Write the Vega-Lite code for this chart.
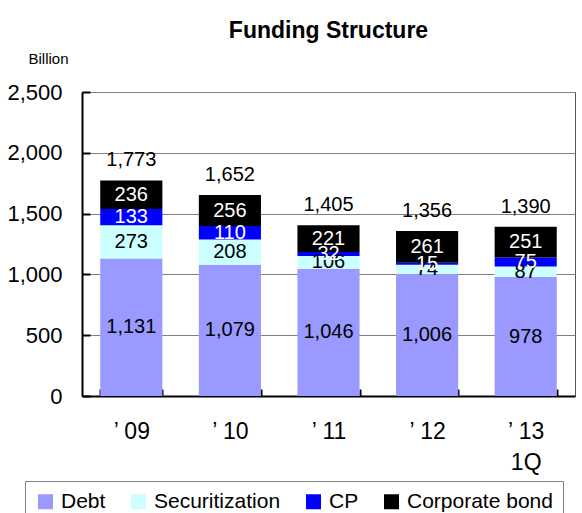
{
  "$schema": "https://vega.github.io/schema/vega-lite/v6.json",
  "width": 493,
  "height": 304,
  "autosize": "none",
  "padding": {"left": 82, "top": 92, "right": 7, "bottom": 117},
  "background": "white",
  "config": {
    "view": {"stroke": "#555555", "strokeWidth": 1},
    "font": "Liberation Sans"
  },
  "title": {
    "text": "Funding Structure",
    "fontSize": 23,
    "fontWeight": "bold",
    "font": "Liberation Sans",
    "color": "black",
    "baseline": "alphabetic",
    "offset": -10
  },
  "datasets": {
    "seg": [
      {"year": "’ 09", "series": "Debt", "k": 1, "value": 1131},
      {"year": "’ 09", "series": "Securitization", "k": 2, "value": 273},
      {"year": "’ 09", "series": "CP", "k": 3, "value": 133},
      {"year": "’ 09", "series": "Corporate bond", "k": 4, "value": 236},
      {"year": "’ 10", "series": "Debt", "k": 1, "value": 1079},
      {"year": "’ 10", "series": "Securitization", "k": 2, "value": 208},
      {"year": "’ 10", "series": "CP", "k": 3, "value": 110},
      {"year": "’ 10", "series": "Corporate bond", "k": 4, "value": 256},
      {"year": "’ 11", "series": "Debt", "k": 1, "value": 1046},
      {"year": "’ 11", "series": "Securitization", "k": 2, "value": 106},
      {"year": "’ 11", "series": "CP", "k": 3, "value": 32},
      {"year": "’ 11", "series": "Corporate bond", "k": 4, "value": 221},
      {"year": "’ 12", "series": "Debt", "k": 1, "value": 1006},
      {"year": "’ 12", "series": "Securitization", "k": 2, "value": 74},
      {"year": "’ 12", "series": "CP", "k": 3, "value": 15},
      {"year": "’ 12", "series": "Corporate bond", "k": 4, "value": 261},
      {"year": "’ 13|1Q", "series": "Debt", "k": 1, "value": 978},
      {"year": "’ 13|1Q", "series": "Securitization", "k": 2, "value": 87},
      {"year": "’ 13|1Q", "series": "CP", "k": 3, "value": 75},
      {"year": "’ 13|1Q", "series": "Corporate bond", "k": 4, "value": 251}
    ],
    "tot": [
      {"year": "’ 09", "total": 1773},
      {"year": "’ 10", "total": 1652},
      {"year": "’ 11", "total": 1405},
      {"year": "’ 12", "total": 1356},
      {"year": "’ 13|1Q", "total": 1390}
    ]
  },
  "layer": [
    {
      "data": {"name": "seg"},
      "mark": {"type": "bar"},
      "encoding": {
        "x": {
          "field": "year",
          "type": "nominal",
          "sort": null,
          "scale": {"paddingInner": 0.37, "paddingOuter": 0.185},
          "axis": {
            "title": null,
            "labelAngle": 0,
            "labelFont": "Liberation Sans",
            "labelFontSize": 23,
            "labelColor": "black",
            "labelExpr": "split(datum.label, '|')",
            "labelLineHeight": 31,
            "labelBaseline": "top",
            "labelPadding": 31,
            "tickBand": "extent",
            "tickSize": -7,
            "tickColor": "black",
            "tickWidth": 2,
            "domainColor": "black",
            "domainWidth": 2,
            "grid": false
          }
        },
        "y": {
          "field": "value",
          "type": "quantitative",
          "stack": "zero",
          "scale": {"domain": [0, 2500], "nice": false},
          "axis": {
            "title": "Billion",
            "titleAngle": 0,
            "titleX": -34,
            "titleY": -34,
            "titleAlign": "center",
            "titleBaseline": "middle",
            "titleFontSize": 15,
            "titleFontWeight": "normal",
            "titleColor": "black",
            "titleFont": "Liberation Sans",
            "values": [0, 500, 1000, 1500, 2000, 2500],
            "format": ",d",
            "labelFontSize": 22,
            "labelColor": "black",
            "labelPadding": 28,
            "tickSize": -8,
            "tickColor": "black",
            "tickWidth": 2,
            "domainColor": "black",
            "domainWidth": 2,
            "gridColor": "#808080",
            "gridWidth": 1
          }
        },
        "color": {
          "field": "series",
          "type": "nominal",
          "scale": {
            "domain": ["Debt", "Securitization", "CP", "Corporate bond"],
            "range": ["#9999FF", "#CCFFFF", "#0000FF", "#000000"]
          },
          "legend": {
            "title": null,
            "orient": "none",
            "direction": "horizontal",
            "legendX": -57,
            "legendY": 389,
            "symbolType": "square",
            "symbolSize": 225,
            "symbolStrokeWidth": 0,
            "labelFontSize": 21,
            "labelColor": "black",
            "labelFont": "Liberation Sans",
            "labelOffset": 5,
            "columnPadding": 22,
            "padding": 10,
            "strokeColor": "#808080"
          }
        },
        "order": {"field": "k", "type": "quantitative"}
      }
    },
    {
      "data": {"name": "seg"},
      "transform": [
        {"stack": "value", "groupby": ["year"], "sort": [{"field": "k", "order": "ascending"}], "as": ["y0", "y1"]},
        {"calculate": "(datum.y0 + datum.y1) / 2", "as": "mid"}
      ],
      "mark": {"type": "text", "fontSize": 20, "font": "Liberation Sans", "baseline": "middle"},
      "encoding": {
        "x": {"field": "year", "type": "nominal", "sort": null},
        "y": {"field": "mid", "type": "quantitative"},
        "text": {"field": "value", "type": "quantitative", "format": ","},
        "color": {
          "condition": {"test": "datum.series === 'CP' || datum.series === 'Corporate bond'", "value": "white"},
          "value": "black"
        }
      }
    },
    {
      "data": {"name": "tot"},
      "mark": {"type": "text", "fontSize": 20, "font": "Liberation Sans", "baseline": "middle", "dy": -20, "color": "black"},
      "encoding": {
        "x": {"field": "year", "type": "nominal", "sort": null},
        "y": {"field": "total", "type": "quantitative"},
        "text": {"field": "total", "type": "quantitative", "format": ","}
      }
    }
  ]
}
